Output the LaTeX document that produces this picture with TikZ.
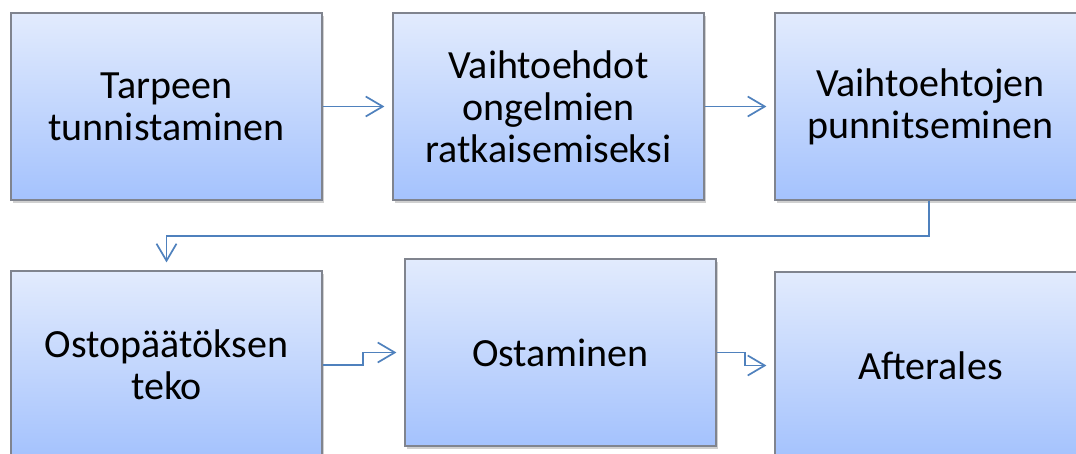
\documentclass[tikz,border=0pt]{standalone}
\usepackage{fontspec}
\setmainfont{Carlito}
\usetikzlibrary{arrows.meta,shadows}
\definecolor{boxtop}{RGB}{226,235,253}
\definecolor{boxbot}{RGB}{164,194,253}
\definecolor{boxedge}{RGB}{128,132,142}
\definecolor{flow}{RGB}{79,129,189}
\tikzset{
  stage/.style={draw=boxedge, line width=1.2pt, top color=boxtop, bottom color=boxbot,
    minimum width=311pt, minimum height=187pt, align=center, inner sep=0pt,
    font=\fontsize{40}{42}\selectfont,
    drop shadow={shadow xshift=2pt, shadow yshift=-3pt, opacity=0.3, fill=black!60}},
  flowline/.style={draw=flow, line width=1.7pt, -{Straight Barb[length=17pt,width=20pt,line width=1.7pt]}, shorten >=8pt}
}
\begin{document}
\begin{tikzpicture}[x=1pt,y=-1pt]
\useasboundingbox (0,0) rectangle (1076,454);
\clip (0,0) rectangle (1076,454);
\fill[white] (0,0) rectangle (1076,454);
% top row
\node[stage] (s1) at (166.5,106.5) {Tarpeen\\tunnistaminen};
\node[stage] (s2) at (548.5,106.5) {Vaihtoehdot\\ongelmien\\ratkaisemiseksi};
\node[stage] (s3) at (930.5,106.5) {Vaihtoehtojen\\punnitseminen};
% bottom row
\node[stage] (s4) at (166.5,364.5) {Ostopäätöksen\\teko};
\node[stage] (s5) at (560.5,352.5) {Ostaminen};
\node[stage] (s6) at (930.5,365.5) {Afterales};
% connectors
\draw[flowline] (s1.east) -- (s2.west);
\draw[flowline] (s2.east) -- (s3.west);
\coordinate (r1) at (929,236);
\coordinate (r2) at (166.5,236);
\draw[flowline] (s3.south -| r1) -- (r1) -- (r2) -- (s4.north);
\coordinate (k1) at (363,365);
\coordinate (k2) at (363,352.5);
\draw[flowline] (s4.east |- k1) -- (k1) -- (k2) -- (s5.west);
\coordinate (k3) at (745,352.5);
\coordinate (k4) at (745,365.5);
\draw[flowline] (s5.east) -- (k3) -- (k4) -- (s6.west);
\end{tikzpicture}
\end{document}
